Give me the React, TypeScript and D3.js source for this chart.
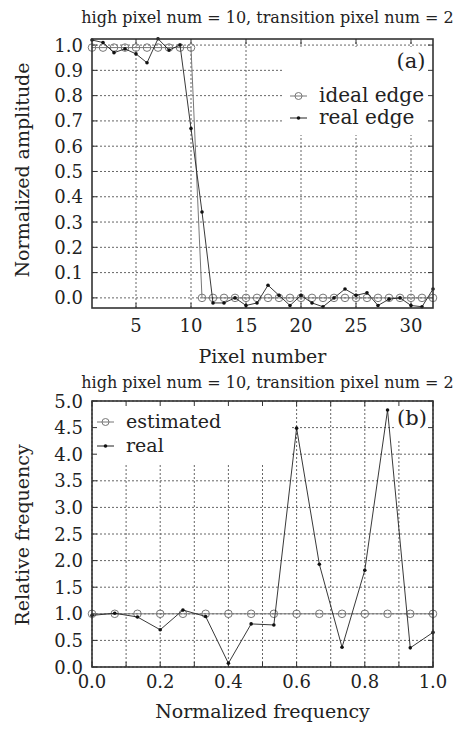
import React from "react";
import * as d3 from "d3";

// panel (a): edge profile
const pixelNumbers = [1, 2, 3, 4, 5, 6, 7, 8, 9, 10, 11, 12, 13, 14, 15, 16, 17, 18, 19, 20, 21, 22, 23, 24, 25, 26, 27, 28, 29, 30, 31, 32];
const idealEdge = [0.99, 0.99, 0.99, 0.99, 0.99, 0.99, 0.99, 0.99, 0.99, 0.99, 0, 0, 0, 0, 0, 0, 0, 0, 0, 0, 0, 0, 0, 0, 0, 0, 0, 0, 0, 0, 0, 0];
const realEdge = [1.02, 1.01, 0.97, 0.985, 0.965, 0.93, 1.025, 0.98, 1.0, 0.67, 0.34, -0.02, -0.02, 0.0, -0.03, -0.02, 0.05, 0.01, -0.03, 0.01, -0.02, -0.035, 0.0, 0.035, 0.01, 0.02, -0.03, -0.005, 0.0, -0.03, -0.035, 0.035];
const pixelTicks = [5, 10, 15, 20, 25, 30];
const amplitudeTicks = [0, 0.1, 0.2, 0.3, 0.4, 0.5, 0.6, 0.7, 0.8, 0.9, 1.0];

// panel (b): relative frequency
const freqPoints = [0, 0.0667, 0.1333, 0.2, 0.2667, 0.3333, 0.4, 0.4667, 0.5333, 0.6, 0.6667, 0.7333, 0.8, 0.8667, 0.9333, 1.0];
const estimatedFreq = [1, 1, 1, 1, 1, 1, 1, 1, 1, 1, 1, 1, 1, 1, 1, 1];
const realFreq = [0.97, 1.01, 0.94, 0.7, 1.07, 0.95, 0.07, 0.81, 0.79, 4.49, 1.93, 0.37, 1.82, 4.83, 0.36, 0.65];
const freqTicks = [0, 0.1, 0.2, 0.3, 0.4, 0.5, 0.6, 0.7, 0.8, 0.9, 1.0];
const freqLabelTicks = [0, 0.2, 0.4, 0.6, 0.8, 1.0];
const relTicks = [0, 0.5, 1.0, 1.5, 2.0, 2.5, 3.0, 3.5, 4.0, 4.5, 5.0];

const title = "high pixel num = 10, transition pixel num = 2";
const FONT = "'DejaVu Serif', serif";

function Panel(props) {
  const { x, y, xs, seriesA, seriesB, xTicks, xLabelTicks, xFmt, yTicks, yFmt, gridY,
    titleY, xLabel, yLabel, xLabelY, yLabelY, tag, tagPos, legend, masks, tickLabelY } = props;
  const [x0, x1] = x.range();
  const [y0, y1] = y.range(); // y0 bottom, y1 top
  const line = d3.line().x((d) => x(d[0])).y((d) => y(d[1]));
  const ptsA = xs.map((v, i) => [v, seriesA.values[i]]);
  const ptsB = xs.map((v, i) => [v, seriesB.values[i]]);
  const grid = "#666";
  return (
    <g fontFamily={FONT}>
      <text x={(x0 + x1) / 2 + 5} y={titleY} fontSize={16} textAnchor="middle" fill="#222">{title}</text>
      {/* grid */}
      {xTicks.map((t) => (
        <line key={"gx" + t} x1={x(t)} x2={x(t)} y1={y0} y2={y1} stroke={grid} strokeWidth={1} strokeDasharray="2,2" />
      ))}
      {gridY.map((t) => (
        <line key={"gy" + t} x1={x0} x2={x1} y1={y(t)} y2={y(t)} stroke={grid} strokeWidth={1} strokeDasharray="2,2" />
      ))}
      {masks.map((m, i) => (
        <rect key={"m" + i} x={m[0]} y={m[1]} width={m[2]} height={m[3]} fill="#fff" />
      ))}
      {/* ticks */}
      {xTicks.map((t) => (
        <g key={"tx" + t}>
          <line x1={x(t)} x2={x(t)} y1={y0} y2={y0 - 5} stroke="#333" />
          <line x1={x(t)} x2={x(t)} y1={y1} y2={y1 + 5} stroke="#333" />
        </g>
      ))}
      {yTicks.map((t) => (
        <g key={"ty" + t}>
          <line x1={x0} x2={x0 + 5} y1={y(t)} y2={y(t)} stroke="#333" />
          <line x1={x1} x2={x1 - 5} y1={y(t)} y2={y(t)} stroke="#333" />
          <text x={x0 - 9} y={y(t) + 6.5} fontSize={18} textAnchor="end" fill="#222">{yFmt(t)}</text>
        </g>
      ))}
      {xLabelTicks.map((t) => (
        <text key={"lx" + t} x={x(t)} y={tickLabelY} fontSize={18} textAnchor="middle" fill="#222">{xFmt(t)}</text>
      ))}
      {/* series */}
      <path d={line(ptsA)} fill="none" stroke="#777" strokeWidth={1} />
      {ptsA.map((p, i) => (
        <circle key={"ca" + i} cx={x(p[0])} cy={y(p[1])} r={3.8} fill="none" stroke="#777" strokeWidth={1} />
      ))}
      <path d={line(ptsB)} fill="none" stroke="#222" strokeWidth={0.9} />
      {ptsB.map((p, i) => (
        <circle key={"cb" + i} cx={x(p[0])} cy={y(p[1])} r={1.8} fill="#111" />
      ))}
      {/* frame */}
      <rect x={x0} y={y1} width={x1 - x0} height={y0 - y1} fill="none" stroke="#333" strokeWidth={1.6} />
      <text x={tagPos[0]} y={tagPos[1]} fontSize={21} textAnchor="middle" fill="#222">{tag}</text>
      {/* legend */}
      {[seriesA, seriesB].map((s, i) => {
        const ly = legend.y + i * legend.gap;
        return (
          <g key={"lg" + i}>
            <line x1={legend.x} x2={legend.x + 17} y1={ly - 6} y2={ly - 6} stroke={i === 0 ? "#777" : "#222"} strokeWidth={1} />
            {i === 0 ? (
              <circle cx={legend.x + 8.5} cy={ly - 6} r={3.5} fill="none" stroke="#777" />
            ) : (
              <circle cx={legend.x + 8.5} cy={ly - 6} r={1.8} fill="#111" />
            )}
            <text x={legend.x + 29} y={ly} fontSize={legend.size} fill="#222">{s.name}</text>
          </g>
        );
      })}
      <text x={(x0 + x1) / 2} y={xLabelY} fontSize={19} textAnchor="middle" fill="#222">{xLabel}</text>
      <text transform={`translate(29,${yLabelY}) rotate(-90)`} fontSize={19} textAnchor="middle" fill="#222">{yLabel}</text>
    </g>
  );
}

export default function App() {
  const xA = d3.scaleLinear().domain([1, 32]).range([92, 433]);
  const yA = d3.scaleLinear().domain([-0.04, 1.024]).range([308, 39]);
  const xB = d3.scaleLinear().domain([0, 1]).range([92, 433]);
  const yB = d3.scaleLinear().domain([0, 5]).range([667, 401]);
  return (
    <svg width={453} height={734} style={{ position: "absolute", left: 0, top: 0, background: "#fff" }}>
      <rect width={453} height={734} fill="#fff" />
      <Panel
        x={xA}
        y={yA}
        xs={pixelNumbers}
        seriesA={{ name: "ideal edge", values: idealEdge }}
        seriesB={{ name: "real edge", values: realEdge }}
        xTicks={pixelTicks}
        xLabelTicks={pixelTicks}
        xFmt={(t) => String(t)}
        yTicks={amplitudeTicks}
        gridY={amplitudeTicks}
        yFmt={(t) => d3.format(".1f")(t)}
        titleY={23}
        tickLabelY={332}
        xLabel="Pixel number"
        xLabelY={363}
        yLabel="Normalized amplitude"
        yLabelY={170}
        tag="(a)"
        tagPos={[411, 68]}
        legend={{ x: 290, y: 102, gap: 22, size: 20 }}
        masks={[[284, 47, 148, 88]]}
      />
      <Panel
        x={xB}
        y={yB}
        xs={freqPoints}
        seriesA={{ name: "estimated", values: estimatedFreq }}
        seriesB={{ name: "real", values: realFreq }}
        xTicks={freqTicks}
        xLabelTicks={freqLabelTicks}
        xFmt={(t) => d3.format(".1f")(t)}
        yTicks={relTicks}
        gridY={relTicks}
        yFmt={(t) => d3.format(".1f")(t)}
        titleY={388}
        tickLabelY={688}
        xLabel="Normalized frequency"
        xLabelY={718}
        yLabel="Relative frequency"
        yLabelY={535}
        tag="(b)"
        tagPos={[412, 425]}
        legend={{ x: 97, y: 428, gap: 24, size: 19 }}
        masks={[[93, 402, 197, 61], [394, 402, 38, 38]]}
      />
    </svg>
  );
}
